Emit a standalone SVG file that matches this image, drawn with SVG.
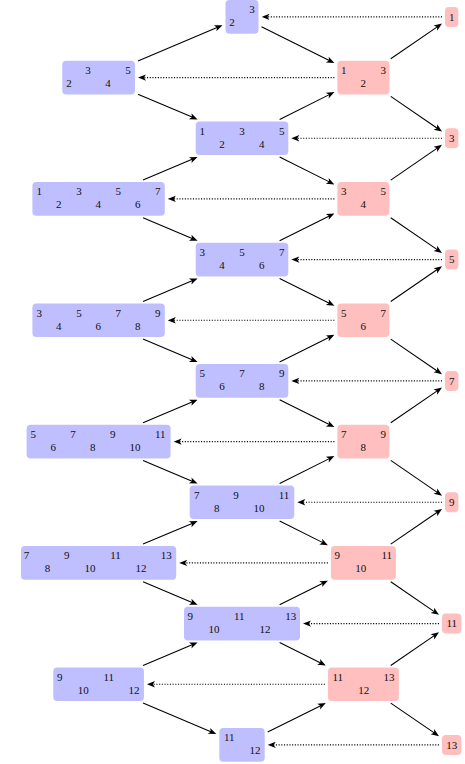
<svg xmlns="http://www.w3.org/2000/svg" width="465" height="764" viewBox="0 0 465 764">
<style>
.b{fill:#bfbfff}
.r{fill:#ffbfbf}
text{font-family:"Liberation Serif","DejaVu Serif",serif;font-size:11px;fill:#111;text-anchor:middle}
.e{stroke:#000;stroke-width:1.1;fill:none;marker-end:url(#ah)}
.d{stroke:#000;stroke-width:1.1;fill:none;stroke-dasharray:1.1 1.6;marker-end:url(#ah)}
</style>
<defs>
<marker id="ah" viewBox="0 0 10 8" refX="6" refY="4" markerWidth="10" markerHeight="8" markerUnits="userSpaceOnUse" orient="auto"><path d="M10,4 L2,0.8 L4,4 L2,7.2 Z" fill="#000"/></marker>
</defs>
<rect width="465" height="764" fill="#fff"/>
<g id="connectors">
<path class="e" d="M137.95,60.95 L218.82,26.71"/>
<path class="e" d="M137.95,94.25 L193.88,117.84"/>
<path class="e" d="M143.04,180.1 L193.88,158.56"/>
<path class="e" d="M143.04,217.7 L193.88,239.24"/>
<path class="e" d="M143.04,301.5 L193.88,279.96"/>
<path class="e" d="M143.04,339.1 L193.88,360.54"/>
<path class="e" d="M143.04,422.8 L193.88,401.26"/>
<path class="e" d="M143.04,460.4 L193.88,481.94"/>
<path class="e" d="M143.04,544.1 L193.88,522.66"/>
<path class="e" d="M143.04,581.7 L193.88,603.24"/>
<path class="e" d="M143.04,665.5 L193.88,643.96"/>
<path class="e" d="M143.04,703.1 L212.62,732.47"/>
<path class="e" d="M261.5,26.64 L330.82,61.32"/>
<path class="e" d="M279.62,119.4 L330.82,93.88"/>
<path class="e" d="M279.62,157 L330.82,182.62"/>
<path class="e" d="M279.62,240.8 L330.82,215.18"/>
<path class="e" d="M279.62,278.4 L330.82,304.02"/>
<path class="e" d="M279.62,362.1 L330.82,336.58"/>
<path class="e" d="M279.62,399.7 L330.82,425.32"/>
<path class="e" d="M279.62,483.5 L330.82,457.88"/>
<path class="e" d="M279.62,521.1 L324.32,543.37"/>
<path class="e" d="M279.62,604.8 L324.32,582.43"/>
<path class="e" d="M279.62,642.4 L322.2,663.71"/>
<path class="e" d="M267.7,732.06 L322.2,704.89"/>
<path class="e" d="M390.76,58.8 L438.7,25.84"/>
<path class="e" d="M390.76,96.4 L438.7,129.26"/>
<path class="e" d="M390.76,180.1 L438.7,147.14"/>
<path class="e" d="M390.76,217.7 L438.7,250.66"/>
<path class="e" d="M390.76,301.5 L438.7,268.54"/>
<path class="e" d="M390.76,339.1 L438.7,371.96"/>
<path class="e" d="M390.76,422.8 L438.7,389.84"/>
<path class="e" d="M390.76,460.4 L438.7,493.36"/>
<path class="e" d="M390.76,544.1 L438.7,511.24"/>
<path class="e" d="M390.76,581.7 L435.7,612.6"/>
<path class="e" d="M390.76,665.5 L435.7,634.6"/>
<path class="e" d="M390.76,703.1 L435.7,733.9"/>
<path class="d" d="M442,16.9 L265.5,16.9"/>
<path class="d" d="M334.4,77.6 L141.95,77.6"/>
<path class="d" d="M442,138.2 L295.3,138.2"/>
<path class="d" d="M334.4,198.9 L171.8,198.9"/>
<path class="d" d="M442,259.6 L295.3,259.6"/>
<path class="d" d="M334.4,320.3 L171.8,320.3"/>
<path class="d" d="M442,380.9 L295.3,380.9"/>
<path class="d" d="M334.4,441.6 L177.6,441.6"/>
<path class="d" d="M442,502.3 L301.3,502.3"/>
<path class="d" d="M327.9,562.9 L183.2,562.9"/>
<path class="d" d="M439,623.6 L307,623.6"/>
<path class="d" d="M324.9,684.3 L150.95,684.3"/>
<path class="d" d="M439,744.9 L271.7,744.9"/>
</g>
<g id="n_top"><rect class="b" x="225.5" y="0.1" width="33" height="33.6" rx="4"/><text x="252" y="13.2">3</text><text x="232" y="26.2">2</text></g>
<g id="n_L1"><rect class="b" x="62.25" y="60.8" width="72.7" height="33.6" rx="4"/><text x="88" y="73.9">3</text><text x="128" y="73.9">5</text><text x="69" y="86.9">2</text><text x="108" y="86.9">4</text></g>
<g id="n_B1"><rect class="b" x="195.7" y="121.4" width="92.6" height="33.6" rx="4"/><text x="202.3" y="134.5">1</text><text x="242" y="134.5">3</text><text x="281.7" y="134.5">5</text><text x="222" y="147.5">2</text><text x="261.7" y="147.5">4</text></g>
<g id="n_L2"><rect class="b" x="32.4" y="182.1" width="132.4" height="33.6" rx="4"/><text x="39.3" y="195.2">1</text><text x="79" y="195.2">3</text><text x="118.3" y="195.2">5</text><text x="157.7" y="195.2">7</text><text x="58.7" y="208.2">2</text><text x="98.3" y="208.2">4</text><text x="137.7" y="208.2">6</text></g>
<g id="n_B2"><rect class="b" x="195.7" y="242.8" width="92.6" height="33.6" rx="4"/><text x="202.3" y="255.9">3</text><text x="242" y="255.9">5</text><text x="281.7" y="255.9">7</text><text x="222" y="268.9">4</text><text x="261.7" y="268.9">6</text></g>
<g id="n_L3"><rect class="b" x="32.4" y="303.5" width="132.4" height="33.6" rx="4"/><text x="39.3" y="316.6">3</text><text x="79" y="316.6">5</text><text x="118.3" y="316.6">7</text><text x="157.7" y="316.6">9</text><text x="58.7" y="329.6">4</text><text x="98.3" y="329.6">6</text><text x="137.7" y="329.6">8</text></g>
<g id="n_B3"><rect class="b" x="195.7" y="364.1" width="92.6" height="33.6" rx="4"/><text x="202.3" y="377.2">5</text><text x="242" y="377.2">7</text><text x="281.7" y="377.2">9</text><text x="222" y="390.2">6</text><text x="261.7" y="390.2">8</text></g>
<g id="n_L4"><rect class="b" x="26.6" y="424.8" width="144" height="33.6" rx="4"/><text x="33.3" y="437.9">5</text><text x="73" y="437.9">7</text><text x="112.7" y="437.9">9</text><text x="160.3" y="437.9">11</text><text x="53.3" y="450.9">6</text><text x="92.7" y="450.9">8</text><text x="135" y="450.9">10</text></g>
<g id="n_B4"><rect class="b" x="189.7" y="485.5" width="104.6" height="33.6" rx="4"/><text x="196.7" y="498.6">7</text><text x="236" y="498.6">9</text><text x="284" y="498.6">11</text><text x="216.7" y="511.6">8</text><text x="259" y="511.6">10</text></g>
<g id="n_L5"><rect class="b" x="21" y="546.1" width="155.2" height="33.6" rx="4"/><text x="26.5" y="559.2">7</text><text x="66.7" y="559.2">9</text><text x="115.5" y="559.2">11</text><text x="166.2" y="559.2">13</text><text x="47.5" y="572.2">8</text><text x="90" y="572.2">10</text><text x="141" y="572.2">12</text></g>
<g id="n_B5"><rect class="b" x="184" y="606.8" width="116" height="33.6" rx="4"/><text x="190.3" y="619.9">9</text><text x="239.3" y="619.9">11</text><text x="290.7" y="619.9">13</text><text x="214" y="632.9">10</text><text x="265" y="632.9">12</text></g>
<g id="n_L6"><rect class="b" x="53.25" y="667.5" width="90.7" height="33.6" rx="4"/><text x="59.7" y="680.6">9</text><text x="108.7" y="680.6">11</text><text x="83.3" y="693.6">10</text><text x="134" y="693.6">12</text></g>
<g id="n_bottom"><rect class="b" x="219.3" y="728.1" width="45.4" height="33.6" rx="4"/><text x="229.3" y="741.2">11</text><text x="255" y="754.2">12</text></g>
<g id="n_R1"><rect class="r" x="337.4" y="60.8" width="52" height="33.6" rx="4"/><text x="343.7" y="73.9">1</text><text x="383.3" y="73.9">3</text><text x="363.3" y="86.9">2</text></g>
<g id="n_R3"><rect class="r" x="337.4" y="182.1" width="52" height="33.6" rx="4"/><text x="343.7" y="195.2">3</text><text x="383.3" y="195.2">5</text><text x="363.3" y="208.2">4</text></g>
<g id="n_R5"><rect class="r" x="337.4" y="303.5" width="52" height="33.6" rx="4"/><text x="343.7" y="316.6">5</text><text x="383.3" y="316.6">7</text><text x="363.3" y="329.6">6</text></g>
<g id="n_R7"><rect class="r" x="337.4" y="424.8" width="52" height="33.6" rx="4"/><text x="343.7" y="437.9">7</text><text x="383.3" y="437.9">9</text><text x="363.3" y="450.9">8</text></g>
<g id="n_R9"><rect class="r" x="330.9" y="546.1" width="65" height="33.6" rx="4"/><text x="337.3" y="559.2">9</text><text x="386.7" y="559.2">11</text><text x="360.7" y="572.2">10</text></g>
<g id="n_R11"><rect class="r" x="327.9" y="667.5" width="71" height="33.6" rx="4"/><text x="337.7" y="680.6">11</text><text x="389" y="680.6">13</text><text x="363.7" y="693.6">12</text></g>
<g id="n_r1"><rect class="r" x="445" y="6.9" width="13.4" height="20" rx="4"/><text x="451.7" y="20.5">1</text></g>
<g id="n_r3"><rect class="r" x="445" y="128.2" width="13.4" height="20" rx="4"/><text x="451.7" y="141.8">3</text></g>
<g id="n_r5"><rect class="r" x="445" y="249.6" width="13.4" height="20" rx="4"/><text x="451.7" y="263.2">5</text></g>
<g id="n_r7"><rect class="r" x="445" y="370.9" width="13.4" height="20" rx="4"/><text x="451.7" y="384.5">7</text></g>
<g id="n_r9"><rect class="r" x="445" y="492.3" width="13.4" height="20" rx="4"/><text x="451.7" y="505.9">9</text></g>
<g id="n_r11"><rect class="r" x="442" y="613.6" width="19.4" height="20" rx="4"/><text x="451.7" y="627.2">11</text></g>
<g id="n_r13"><rect class="r" x="442" y="734.9" width="19.4" height="20" rx="4"/><text x="451.7" y="748.5">13</text></g>
</svg>
